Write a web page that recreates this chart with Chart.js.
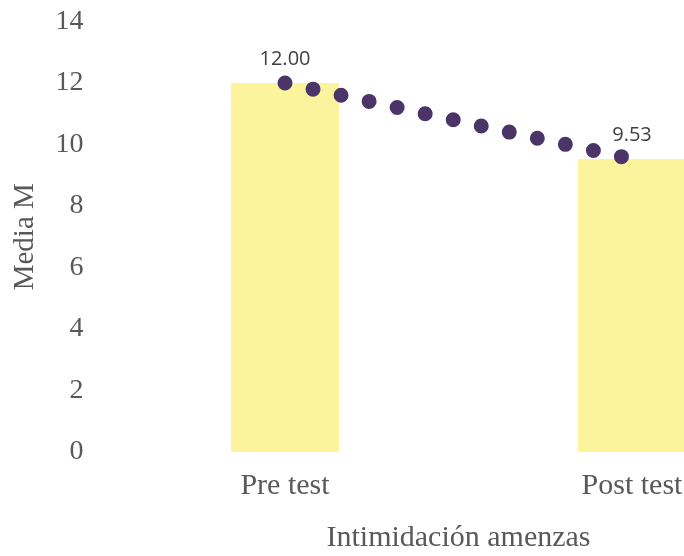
<!DOCTYPE html>
<html lang="es">
<head>
<meta charset="utf-8">
<title>Intimidación amenazas</title>
<script src="https://cdn.jsdelivr.net/npm/chart.js@4/dist/chart.umd.min.js"></script>
<style>
  html, body { margin: 0; padding: 0; background: #fff; overflow: hidden; }
  .wrap { width: 810px; height: 556px; }
</style>
</head>
<body>
<div class="wrap">
  <canvas id="meanChart" width="810" height="556"></canvas>
</div>
<script>
const categories = ['Pre test', 'Post test'];
const meanValues = [12.00, 9.53];
const yTicks = [0, 2, 4, 6, 8, 10, 12, 14];

const SERIF = '"Liberation Serif", "Times New Roman", serif';
const TEXT_GRAY = '#595959';

// value labels drawn above the dotted line points
const valueLabels = {
  id: 'valueLabels',
  afterDatasetsDraw(chart) {
    const ctx = chart.ctx;
    ctx.save();
    ctx.font = '20px "Open Sans", sans-serif';
    ctx.fillStyle = '#404040';
    ctx.textAlign = 'center';
    ctx.textBaseline = 'middle';
    meanValues.forEach((v, i) => {
      const x = chart.scales.x.getPixelForValue(i);
      const y = chart.scales.y.getPixelForValue(v);
      ctx.fillText(v.toFixed(2), x, y - 24);
    });
    ctx.restore();
  }
};

new Chart(document.getElementById('meanChart'), {
  data: {
    labels: categories,
    datasets: [
      {
        type: 'bar',
        data: meanValues,
        backgroundColor: '#fcf49c',
        categoryPercentage: 1,
        barPercentage: 0.311,
        order: 2
      },
      {
        type: 'line',
        data: meanValues,
        borderColor: '#4a3468',
        borderWidth: 15,
        borderDash: [0, 28.7],
        borderCapStyle: 'round',
        pointRadius: 0,
        tension: 0,
        order: 1
      }
    ]
  },
  options: {
    responsive: false,
    animation: false,
    layout: { padding: { top: 21.5, right: 4.5, left: 0, bottom: 0 } },
    plugins: {
      legend: { display: false },
      tooltip: { enabled: false }
    },
    scales: {
      x: {
        offset: true,
        grid: { display: false, drawTicks: false },
        border: { display: false },
        ticks: { color: TEXT_GRAY, font: { family: SERIF, size: 30 }, padding: 16 },
        title: {
          display: true,
          text: 'Intimidación amenzas',
          color: TEXT_GRAY,
          font: { family: SERIF, size: 30 },
          padding: { top: 0, bottom: 0 }
        },
        afterFit(scale) {
          scale.height = 104;
          scale.paddingLeft = 0;
          scale.paddingRight = 0;
        }
      },
      y: {
        min: 0,
        max: 14,
        afterBuildTicks(scale) { scale.ticks = yTicks.map((v) => ({ value: v })); },
        grid: { display: false, drawTicks: false },
        border: { display: false },
        ticks: { color: TEXT_GRAY, font: { family: SERIF, size: 28 }, padding: 28 },
        title: {
          display: true,
          text: 'Media M',
          color: TEXT_GRAY,
          font: { family: SERIF, size: 29 },
          padding: { top: 8, bottom: 0 }
        },
        afterFit(scale) {
          scale.width = 111.5;
          scale.paddingTop = 0;
          scale.paddingBottom = 0;
        }
      }
    }
  },
  plugins: [valueLabels]
});
</script>
</body>
</html>
